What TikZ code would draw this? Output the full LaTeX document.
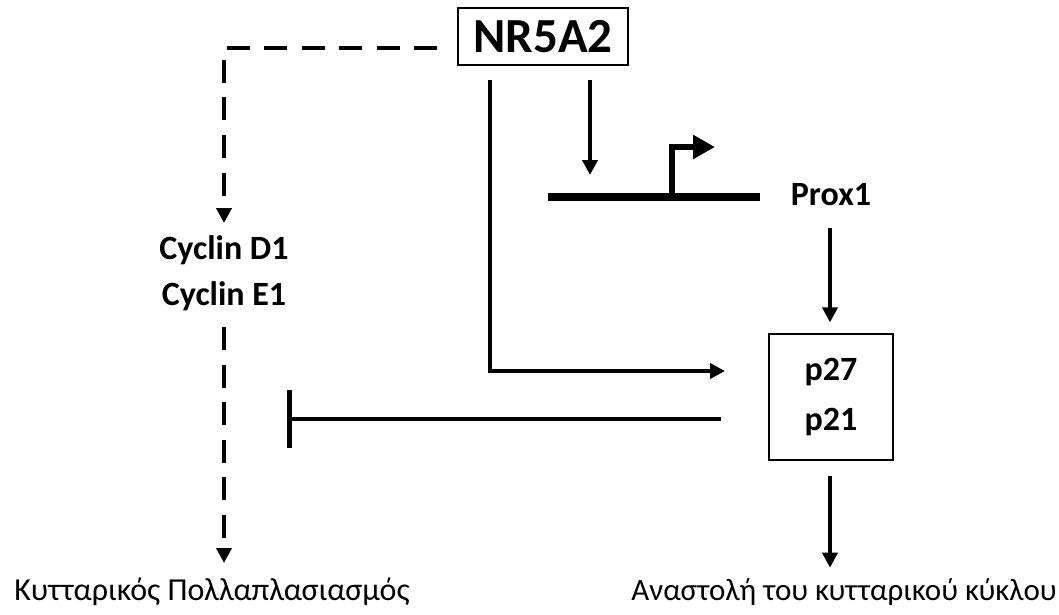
\documentclass[tikz,border=0pt]{standalone}
\usepackage{fontspec}
\setmainfont{Carlito}
\usetikzlibrary{arrows.meta,calc}
\begin{document}
\begin{tikzpicture}[x=1pt,y=-1pt,
  lbl/.style={font=\bfseries\fontsize{34}{40}\selectfont, inner sep=0pt, anchor=base},
  bottomlbl/.style={inner sep=0pt, anchor=base},
  conn/.style={line width=4.5pt, -{Triangle[length=15pt,width=15pt]}},
  dashconn/.style={line width=4.5pt, dash pattern=on 23pt off 14.5pt, -{Triangle[length=15pt,width=15pt]}},
  inhib/.style={line width=4.5pt, -{Bar[width=58pt]}},
  boxnode/.style={draw, line width=1.3pt, inner sep=0pt, align=center}
]
\useasboundingbox (0,0) rectangle (1059,615);

% nodes
\node[boxnode, minimum width=170pt, minimum height=57pt, font=\bfseries\fontsize{49}{52}\selectfont] (nr) at (543,36.5) {NR5A2};
\node[lbl] (cycd) at (224,259) {Cyclin D1};
\node[lbl] (cyce) at (224,305) {Cyclin E1};
\node[lbl] (prox) at (831,205) {Prox1};
\node[boxnode, minimum width=124pt, minimum height=126pt, font=\bfseries\fontsize{34}{50}\selectfont] (pbox) at (831,397) {p27\\p21};
\node[bottomlbl, font=\fontsize{32}{36}\selectfont] (prolif) at (212,600) {Κυτταρικός Πολλαπλασιασμός};
\node[bottomlbl, font=\fontsize{31}{36}\selectfont] (arrest) at (844,600) {Αναστολή του κυτταρικού κύκλου};

% coordinates for free ends
\coordinate (dstart) at (450,48);
\coordinate (dtip) at (224,223);
\coordinate (d2start) at (224,327);
\coordinate (d2tip) at (224,563);
\coordinate (s1) at (490,80);
\coordinate (s1tip) at (725,371);
\coordinate (s2) at (590,80);
\coordinate (s2tip) at (590,175);
\coordinate (gl) at (548,197);
\coordinate (gr) at (760,197);
\coordinate (tss) at (672,197);
\coordinate (tsstip) at (715,147);
\coordinate (inhstart) at (721,419);
\coordinate (inhend) at (287,419);

% dashed connectors
\draw[dashconn, dash phase=24.5pt] (dstart) -| (dtip);
\draw[dashconn] (d2start) -- (d2tip);

% solid connectors
\draw[conn] (s1) |- (s1tip);
\draw[conn] (s2) -- (s2tip);
\draw[line width=8pt] (gl) -- (gr);
\draw[line width=6pt, -{Triangle[length=22pt,width=23pt]}] (tss) |- (tsstip);
\draw[conn] ($(prox.base)+(-1,23)$) -- ($(pbox.north)+(-1,-11)$);
\draw[inhib] (inhstart) -- (inhend);
\draw[conn] ($(pbox.south)+(-1,15)$) -- ($(pbox.south)+(-1,107)$);
\end{tikzpicture}
\end{document}
